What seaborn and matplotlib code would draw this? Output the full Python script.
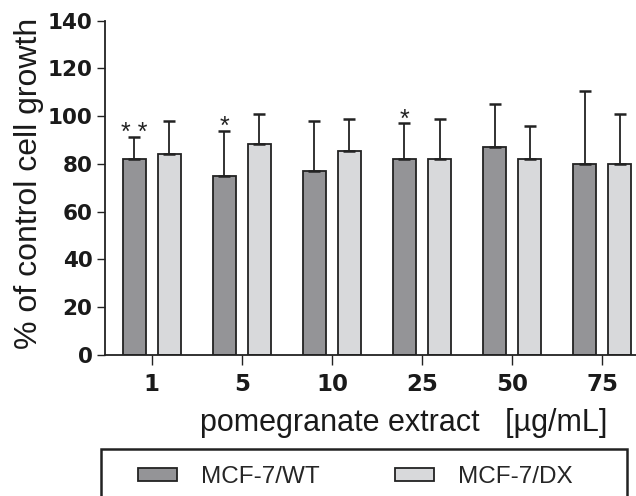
import pandas as pd
import matplotlib.pyplot as plt
import matplotlib.patches as mpatches
import seaborn as sns

# values (% of control cell growth, mean and SD)
concentrations = ["1", "5", "10", "25", "50", "75"]
wt_mean = [82, 75, 77, 82, 87, 80]
wt_sd = [9.5, 19, 21, 15, 18, 30.5]
dx_mean = [84, 88.5, 85.5, 82, 82, 80]
dx_sd = [14, 12.5, 13.5, 17, 14, 21]
stars = ["* *", "*", "", "*", "", ""]

lines = ["MCF-7/WT", "MCF-7/DX"]
colors = ["#939498", "#d8d9db"]

df = pd.DataFrame({
    "conc": concentrations * 2,
    "growth": wt_mean + dx_mean,
    "line": [lines[0]] * 6 + [lines[1]] * 6,
})

sns.set_style("ticks")
plt.rcParams["font.family"] = ["Liberation Sans", "DejaVu Sans"]

fig = plt.figure(figsize=(6.36, 4.96), dpi=100)
ax = fig.add_axes([105 / 636, 141 / 496, 531 / 636, 334.3 / 496])

sns.barplot(data=df, x="conc", y="growth", hue="line", hue_order=lines,
            order=concentrations, palette=colors, errorbar=None,
            width=0.78, gap=0.35, edgecolor="#222222", linewidth=1.3, ax=ax)

# upper-only error bars with caps, on top of each bar
for cont, sd in zip(ax.containers, [wt_sd, dx_sd]):
    xs = [p.get_x() + p.get_width() / 2 for p in cont.patches]
    hs = [p.get_height() for p in cont.patches]
    ax.errorbar(xs, hs, yerr=[[0] * len(sd), sd], fmt="none",
                ecolor="#222222", elinewidth=1.3, capsize=4, capthick=1.8)

# significance marks over WT bars
for p, s, sd in zip(ax.containers[0].patches, stars, wt_sd):
    if s:
        ax.text(p.get_x() + p.get_width() / 2, p.get_height() + sd - 1.5, s,
                ha="center", va="baseline", fontsize=18, color="#222222")

handles, labels = ax.get_legend_handles_labels()
ax.legend_.remove()

ax.set_xlim(-0.518, 5.375)
ax.set_ylim(0, 140)
ax.set_yticks(range(0, 141, 20))
for sp in ["top", "right"]:
    ax.spines[sp].set_visible(False)
for sp in ["left", "bottom"]:
    ax.spines[sp].set_linewidth(1.3)
    ax.spines[sp].set_color("#222222")
ax.tick_params(axis="both", width=1.0, colors="#222222", labelcolor="#1a1a1a")
ax.tick_params(axis="y", length=6, pad=3)
ax.tick_params(axis="x", length=7, pad=6)
for lab in ax.get_yticklabels():
    lab.set_fontfamily("DejaVu Sans")
    lab.set_fontweight("bold")
    lab.set_fontsize(15.5)
for lab in ax.get_xticklabels():
    lab.set_fontfamily("DejaVu Sans")
    lab.set_fontweight("bold")
    lab.set_fontsize(16.5)

ax.set_xlabel("pomegranate extract   [µg/mL]", fontsize=22, color="#1a1a1a")
ax.set_ylabel("% of control cell growth", fontsize=23, color="#1a1a1a")
ax.xaxis.set_label_coords(0.563, -0.159)
ax.yaxis.set_label_coords(-0.115, 0.512)

# legend box, its lower part cut off by the figure edge like in the reference
fig.patches.append(mpatches.Rectangle((101 / 636, -0.1), 526 / 636, 0.1 + 47.5 / 496,
                                      transform=fig.transFigure, fill=False,
                                      edgecolor="#222222", linewidth=1.8,
                                      clip_on=False))
fig.legend(handles, labels, loc="center left",
           bbox_to_anchor=(138 / 636, 1 - 477 / 496), ncol=2, frameon=False,
           fontsize=17.5, borderpad=0, borderaxespad=0, handlelength=1.6,
           handleheight=0.45, handletextpad=1.0, columnspacing=3.1)

fig.savefig("out.png", dpi=100)
